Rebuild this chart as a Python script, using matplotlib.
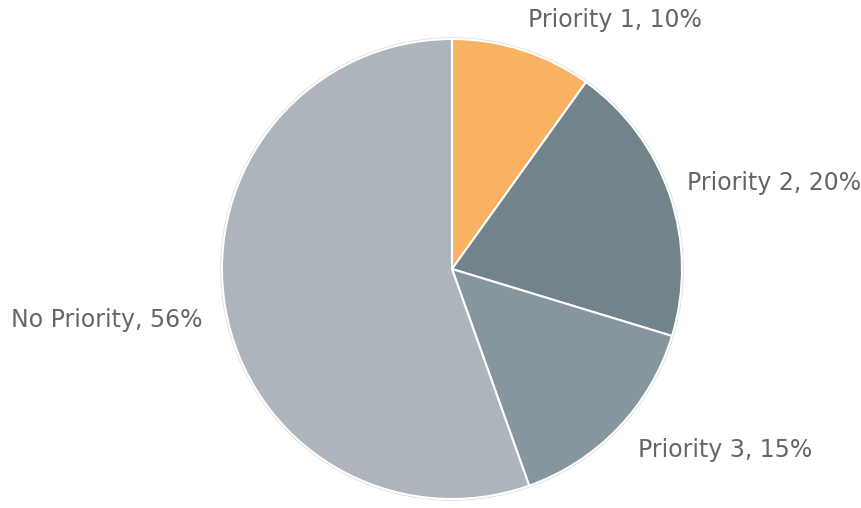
import matplotlib.pyplot as plt
from matplotlib.patches import Circle

labels = ['Priority 1', 'Priority 2', 'Priority 3', 'No Priority']
shares = [10, 20, 15, 56]
colors = ['#F8B262', '#72838B', '#85969F', '#ADB4BB']

# where each label sits, in units of the pie radius
label_pos = [(0.709, 1.083), (1.400, 0.374), (1.187, -0.787), (-1.50, -0.222)]

fig = plt.figure(figsize=(8.62, 5.08), dpi=100)
ax = fig.add_axes([0, 0, 1, 1])

ax.add_patch(Circle((0, 0), 1.0, facecolor='none', edgecolor='#dcdcdc', lw=2.5, zorder=0))
wedges, _ = ax.pie(shares, colors=colors, startangle=90, counterclock=False,
                   radius=1.0, wedgeprops=dict(edgecolor='white', linewidth=1.5))

for lab, val, (x, y) in zip(labels, shares, label_pos):
    ax.text(x, y, f'{lab}, {val}%', ha='center', va='center',
            fontsize=17, color='#666666', family='DejaVu Sans')

ax.set_xlim(-452 / 230, (862 - 452) / 230)
ax.set_ylim(-239 / 230, (508 - 239) / 230)
ax.set_aspect('equal')
ax.axis('off')

fig.savefig('out.png', dpi=100)
